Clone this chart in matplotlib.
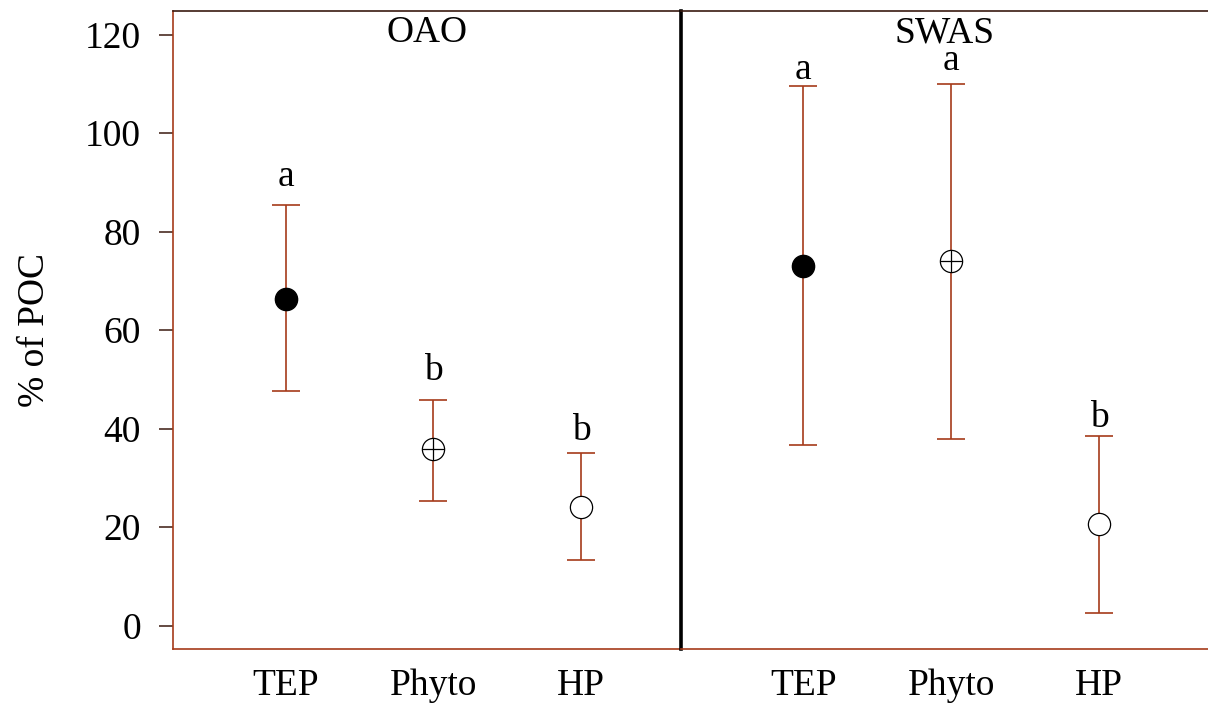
import matplotlib
matplotlib.use("Agg")
import matplotlib.pyplot as plt

plt.rcParams['font.family'] = ['Liberation Serif', 'DejaVu Serif']

groups = ['TEP', 'Phyto', 'HP']
regions = ['OAO', 'SWAS']

# mean and range (lower / upper) of each fraction, % of POC
mean = {'OAO': [66.4, 35.9, 24.0], 'SWAS': [73.1, 74.1, 20.6]}
lower = {'OAO': [47.6, 25.3, 13.3], 'SWAS': [36.6, 37.8, 2.5]}
upper = {'OAO': [85.5, 45.9, 35.0], 'SWAS': [109.6, 110.0, 38.6]}

# significance letters and where they sit
letters = {'OAO': ['a', 'b', 'b'], 'SWAS': ['a', 'a', 'b']}
letter_y = {'OAO': [89.3, 49.8, 37.6], 'SWAS': [111.0, 112.8, 40.3]}

yticks = [0, 20, 40, 60, 80, 100, 120]

bar_col = '#A63B1A'
dark = '#3a1a10'
fs = 27

fig = plt.figure(figsize=(12.08, 7.10), dpi=100)
W, H = 1208.0, 710.0
bot = (H - 649.3) / H
hgt = (649.3 - 11) / H
ax1 = fig.add_axes([173 / W, bot, (680.6 - 173) / W, hgt])
ax2 = fig.add_axes([680.6 / W, bot, (1208 - 680.6) / W, hgt])

xpos = [1, 2, 3]
for ax, reg, xl in [(ax1, 'OAO', (0.2375, 3.672)), (ax2, 'SWAS', (0.171, 3.734))]:
    m, lo, hi = mean[reg], lower[reg], upper[reg]
    err = [[m[i] - lo[i] for i in range(3)], [hi[i] - m[i] for i in range(3)]]
    ax.errorbar(xpos, m, yerr=err, fmt='none', ecolor=bar_col, elinewidth=1.2,
                capsize=10, capthick=1.2, zorder=2)
    # TEP filled, Phyto circle-plus, HP open circle
    ax.plot(xpos[0], m[0], 'o', ms=16, mfc='black', mec='black', zorder=3)
    ax.plot(xpos[1], m[1], 'o', ms=16, mfc='white', mec='black', mew=0.9, zorder=3)
    ax.plot(xpos[1], m[1], '+', ms=16, mec='black', mew=0.9, zorder=4)
    ax.plot(xpos[2], m[2], 'o', ms=16, mfc='white', mec='black', mew=0.9, zorder=3)
    for i in range(3):
        ax.text(xpos[i], letter_y[reg][i], letters[reg][i], ha='center',
                va='baseline', fontsize=fs)
    ax.text(0.5, 0.951, reg, transform=ax.transAxes, ha='center', va='baseline',
            fontsize=fs)
    ax.set_xlim(xl)
    ax.set_ylim(-4.8, 124.8)
    ax.set_xticks(xpos)
    ax.set_xticklabels(groups, fontsize=fs)
    ax.tick_params(axis='x', length=0, pad=14)
    for s in ax.spines.values():
        s.set_color(bar_col)
        s.set_linewidth(1.2)
    ax.spines['top'].set_color(dark)

ax1.set_yticks(yticks)
ax1.set_yticklabels([str(v) for v in yticks], fontsize=fs)
ax1.tick_params(axis='y', length=10, width=1.1, color=dark, pad=13)
ax1.set_ylabel('% of POC', fontsize=fs, labelpad=24)
ax1.spines['right'].set_visible(False)

# thick black divider between the two regions
ax2.set_yticks([])
ax2.spines['left'].set_color('black')
ax2.spines['left'].set_linewidth(2.6)
ax2.spines['right'].set_visible(False)

fig.savefig('out.png', dpi=100)
